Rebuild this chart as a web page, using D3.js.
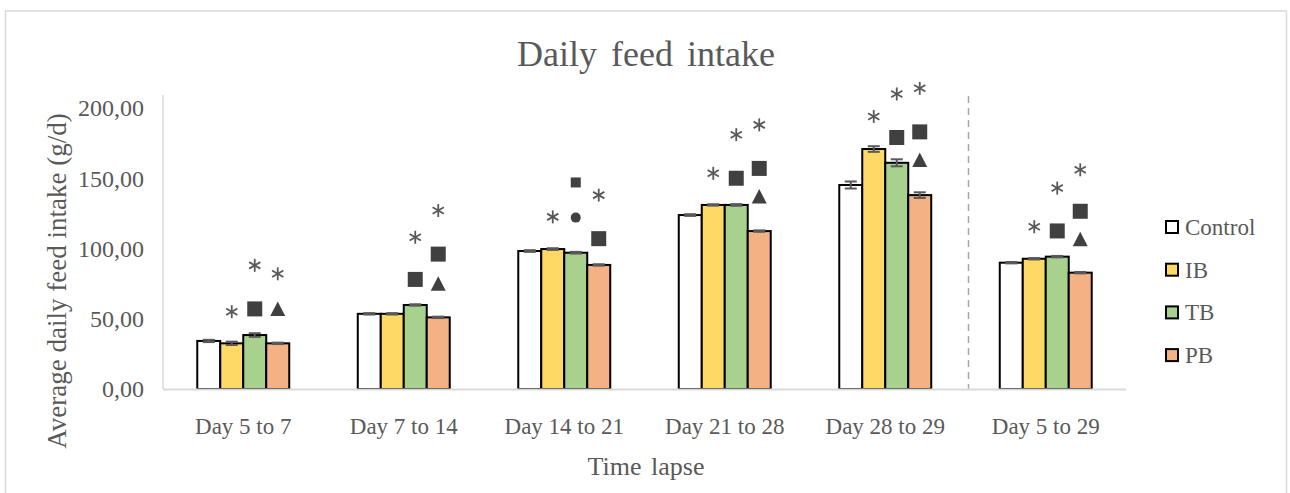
<!DOCTYPE html>
<html lang="en">
<head>
  <meta charset="UTF-8">
  <title>Daily feed intake</title>
  <script src="https://d3js.org/d3.v7.min.js"></script>
  <style>
    body { margin: 0; background: #fff; }
    text { font-family: "Liberation Serif", "Times New Roman", serif; fill: #595959; }
    .bar { stroke: #000; stroke-width: 2px; }
    .err { stroke: #595959; stroke-width: 2px; }
  </style>
</head>
<body>
<svg id="chart" width="1290" height="493"></svg>
<script>
  // chart data
  const periods = ["Day 5 to 7", "Day 7 to 14", "Day 14 to 21", "Day 21 to 28", "Day 28 to 29", "Day 5 to 29"];
  const groups = ["Control", "IB", "TB", "PB"];
  const colors = ["#ffffff", "#ffd966", "#a9d18e", "#f4b183"];
  const control = [34.2, 53.5, 98.2, 123.8, 145.2, 89.9];
  const ib      = [32.5, 53.5, 99.6, 131.0, 170.8, 92.7];
  const tb      = [38.4, 59.8, 97.0, 131.0, 161.0, 94.2];
  const pb      = [32.5, 51.0, 88.3, 112.4, 138.0, 82.8];
  const errControl = [0.8, 0.5, 0.6, 0.6, 2.5, 0.5];
  const errIB      = [1.2, 0.5, 0.6, 0.5, 2.0, 0.5];
  const errTB      = [1.3, 0.5, 0.6, 0.6, 2.5, 0.5];
  const errPB      = [0.5, 0.5, 0.5, 0.5, 2.0, 0.5];
  const yTicks = [0, 50, 100, 150, 200];
  // significance marks: [period index, group index, symbol, height in g/d]
  const marks = [
    [0, 1, "ast", 55], [0, 2, "sq", 57], [0, 2, "ast", 88], [0, 3, "tri", 57], [0, 3, "ast", 82],
    [1, 2, "sq", 78], [1, 2, "ast", 108], [1, 3, "tri", 75], [1, 3, "sq", 96], [1, 3, "ast", 127],
    [2, 1, "ast", 122.5], [2, 2, "dot", 122], [2, 2, "smallsq", 147], [2, 3, "sq", 107], [2, 3, "ast", 138],
    [3, 1, "ast", 153.5], [3, 2, "sq", 150], [3, 2, "ast", 181], [3, 3, "tri", 137], [3, 3, "sq", 157], [3, 3, "ast", 188],
    [4, 1, "ast", 194], [4, 2, "sq", 179], [4, 2, "ast", 210], [4, 3, "tri", 163], [4, 3, "sq", 183], [4, 3, "ast", 214],
    [5, 1, "ast", 115.5], [5, 2, "sq", 112.5], [5, 2, "ast", 143], [5, 3, "tri", 106.5], [5, 3, "sq", 126.5], [5, 3, "ast", 156]
  ];

  const series = [control, ib, tb, pb];
  const errors = [errControl, errIB, errTB, errPB];

  const svg = d3.select("#chart");

  // outer frame
  svg.append("rect")
     .attr("x", 5.5).attr("y", 11).attr("width", 1281).attr("height", 500)
     .attr("fill", "none").attr("stroke", "#d9d9d9").attr("stroke-width", 1.5);

  const plotLeft = 163, plotRight = 1126, plotTop = 108, plotBottom = 389;

  const x = d3.scaleBand().domain(periods).range([plotLeft, plotRight])
              .paddingInner(0.427).paddingOuter(0.2135);
  const x1 = d3.scaleBand().domain(d3.range(groups.length)).range([0, x.bandwidth()]);
  const y = d3.scaleLinear().domain([0, 200]).range([plotBottom, plotTop]);

  // title
  svg.append("text").attr("x", 646).attr("y", 66).attr("text-anchor", "middle")
     .style("font-size", "36px").style("word-spacing", "5px")
     .text("Daily feed intake");

  // y axis line + labels
  svg.append("line").attr("x1", plotLeft).attr("x2", plotLeft).attr("y1", 95).attr("y2", plotBottom)
     .attr("stroke", "#d9d9d9").attr("stroke-width", 1.5);
  svg.selectAll("text.ytick").data(yTicks).join("text")
     .attr("class", "ytick")
     .attr("x", 144).attr("y", d => y(d)).attr("dy", "0.35em")
     .attr("text-anchor", "end").style("font-size", "24px")
     .text(d => d3.format(".2f")(d).replace(".", ","));

  svg.append("text")
     .attr("transform", "translate(66,281) rotate(-90)")
     .attr("text-anchor", "middle").style("font-size", "27px")
     .text("Average daily feed intake (g/d)");

  // separator between period bars and overall
  const sepX = (x(periods[4]) + x.bandwidth() + x(periods[5])) / 2 + 3;
  svg.append("line").attr("x1", sepX).attr("x2", sepX).attr("y1", 96).attr("y2", plotBottom)
     .attr("stroke", "#a6a6a6").attr("stroke-width", 1.5).attr("stroke-dasharray", "7,5");

  // bars
  const barData = [];
  periods.forEach((p, i) => groups.forEach((g, j) => {
    barData.push({ period: p, gi: j, value: series[j][i], err: errors[j][i] });
  }));

  const plot = svg.append("g");
  plot.selectAll("rect.bar").data(barData).join("rect")
      .attr("class", "bar")
      .attr("x", d => x(d.period) + x1(d.gi))
      .attr("width", x1.bandwidth())
      .attr("y", d => y(d.value))
      .attr("height", d => y(0) - y(d.value))
      .attr("fill", d => colors[d.gi]);

  // x axis baseline
  svg.append("line").attr("x1", plotLeft).attr("x2", plotRight).attr("y1", plotBottom + 0.5).attr("y2", plotBottom + 0.5)
     .attr("stroke", "#d9d9d9").attr("stroke-width", 2);

  // error bars
  const errG = plot.selectAll("g.err").data(barData).join("g")
      .attr("class", "err")
      .attr("transform", d => `translate(${x(d.period) + x1(d.gi) + x1.bandwidth() / 2},0)`);
  errG.append("line").attr("y1", d => y(d.value + d.err)).attr("y2", d => y(d.value - d.err));
  errG.append("line").attr("x1", -6).attr("x2", 6)
      .attr("y1", d => y(d.value + d.err)).attr("y2", d => y(d.value + d.err));
  errG.append("line").attr("x1", -6).attr("x2", 6)
      .attr("y1", d => y(d.value - d.err)).attr("y2", d => y(d.value - d.err));

  // significance marks
  const markG = svg.append("g");
  marks.forEach(([pi, gi, sym, v]) => {
    const cx = x(periods[pi]) + x1(gi) + x1.bandwidth() / 2;
    const cy = y(v);
    const g = markG.append("g").attr("transform", `translate(${cx},${cy})`);
    if (sym === "ast") {
      [90, 30, 150].forEach(a => {
        const r = 6.5, rad = a * Math.PI / 180;
        g.append("line")
         .attr("x1", -r * Math.cos(rad)).attr("y1", -r * Math.sin(rad))
         .attr("x2", r * Math.cos(rad)).attr("y2", r * Math.sin(rad))
         .attr("stroke", "#595959").attr("stroke-width", 1.8);
      });
    } else if (sym === "sq") {
      g.append("rect").attr("x", -7.5).attr("y", -7.5).attr("width", 15).attr("height", 15).attr("fill", "#404040");
    } else if (sym === "smallsq") {
      g.append("rect").attr("x", -5).attr("y", -5).attr("width", 10).attr("height", 10).attr("fill", "#404040");
    } else if (sym === "tri") {
      g.append("path").attr("d", "M0,-7.5L7.5,7L-7.5,7Z").attr("fill", "#404040");
    } else if (sym === "dot") {
      g.append("circle").attr("r", 5).attr("fill", "#404040");
    }
  });

  // x tick labels + title
  svg.selectAll("text.xtick").data(periods).join("text")
     .attr("class", "xtick")
     .attr("x", d => x(d) + x.bandwidth() / 2).attr("y", 434)
     .attr("text-anchor", "middle").style("font-size", "23px")
     .text(d => d);
  svg.append("text").attr("x", 646).attr("y", 475).attr("text-anchor", "middle")
     .style("font-size", "26px").style("word-spacing", "3px")
     .text("Time lapse");

  // legend
  const legend = svg.append("g").attr("transform", "translate(1166,227)");
  const items = legend.selectAll("g").data(groups).join("g")
      .attr("transform", (d, i) => `translate(0,${i * 42.7})`);
  items.append("rect").attr("x", 0).attr("y", -6).attr("width", 12).attr("height", 12)
       .attr("fill", (d, i) => colors[i]).attr("stroke", "#000").attr("stroke-width", 2);
  items.append("text").attr("x", 19).attr("dy", "0.35em").style("font-size", "23px").text(d => d);
</script>
</body>
</html>
